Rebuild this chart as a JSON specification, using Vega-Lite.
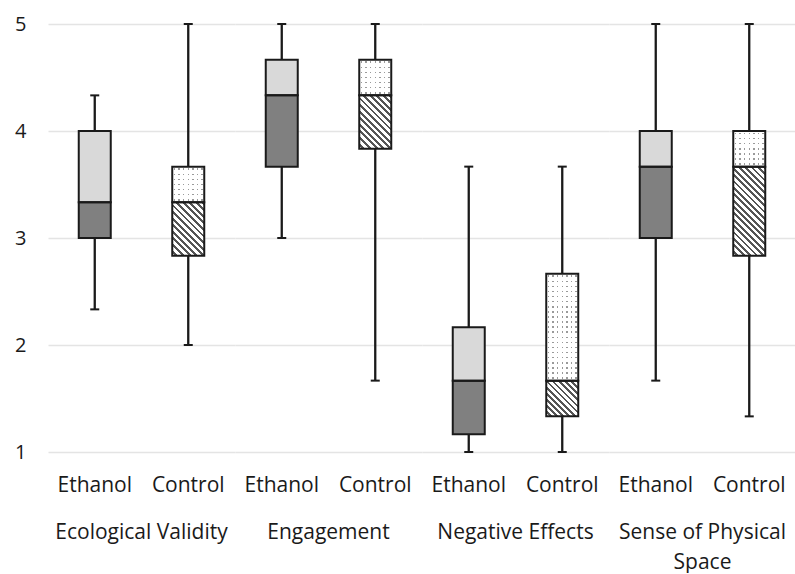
{
  "$schema": "https://vega.github.io/schema/vega-lite/v6.json",
  "padding": {"left": 14, "top": 14, "right": 0, "bottom": 0},
  "background": "white",
  "config": {
    "view": {"stroke": null},
    "font": "Open Sans",
    "axis": {"labelFont": "Open Sans", "labelFontSize": 21, "labelColor": "#1a1a1a"}
  },
  "data": {
    "values": [
      {"category": "Ecological Validity", "group": "Ethanol", "min": 2.333, "q1": 3.0, "median": 3.333, "q3": 4.0, "max": 4.333},
      {"category": "Ecological Validity", "group": "Control", "min": 2.0, "q1": 2.833, "median": 3.333, "q3": 3.667, "max": 5.0},
      {"category": "Engagement", "group": "Ethanol", "min": 3.0, "q1": 3.667, "median": 4.333, "q3": 4.667, "max": 5.0},
      {"category": "Engagement", "group": "Control", "min": 1.667, "q1": 3.833, "median": 4.333, "q3": 4.667, "max": 5.0},
      {"category": "Negative Effects", "group": "Ethanol", "min": 1.0, "q1": 1.167, "median": 1.667, "q3": 2.167, "max": 3.667},
      {"category": "Negative Effects", "group": "Control", "min": 1.0, "q1": 1.333, "median": 1.667, "q3": 2.667, "max": 3.667},
      {"category": "Sense of Physical Space", "group": "Ethanol", "min": 1.667, "q1": 3.0, "median": 3.667, "q3": 4.0, "max": 5.0},
      {"category": "Sense of Physical Space", "group": "Control", "min": 1.333, "q1": 2.833, "median": 3.667, "q3": 4.0, "max": 5.0}
    ]
  },
  "spacing": 0,
  "facet": {
    "column": {
      "field": "category",
      "type": "nominal",
      "sort": ["Ecological Validity", "Engagement", "Negative Effects", "Sense of Physical Space"],
      "header": {
        "title": null,
        "labelOrient": "bottom",
        "labelFont": "Open Sans",
        "labelFontSize": 21,
        "labelColor": "#1a1a1a",
        "labelPadding": 27,
        "labelLineHeight": 30,
        "labelExpr": "datum.value == 'Sense of Physical Space' ? ['Sense of Physical', 'Space'] : datum.value"
      }
    }
  },
  "spec": {
    "width": 187,
    "height": 428,
    "encoding": {
      "x": {
        "field": "group",
        "type": "nominal",
        "sort": ["Ethanol", "Control"],
        "title": null,
        "scale": {"paddingInner": 0, "paddingOuter": 0},
        "axis": {"domain": false, "ticks": false, "tickSize": 0, "labelPadding": 20, "labelAngle": 0, "grid": false}
      }
    },
    "layer": [
      {
        "mark": {"type": "rule", "color": "#1a1a1a", "strokeWidth": 2.3},
        "encoding": {
          "y": {
            "field": "min",
            "type": "quantitative",
            "title": null,
            "scale": {"domain": [1, 5], "nice": false, "zero": false},
            "axis": {"values": [1, 2, 3, 4, 5], "format": "d", "labelFontSize": 20, "domain": false, "ticks": false, "tickSize": 0, "labelPadding": 22, "minExtent": 34, "maxExtent": 34, "grid": true, "gridColor": "#e4e4e4", "gridWidth": 1.5}
          },
          "y2": {"field": "max"}
        }
      },
      {
        "mark": {"type": "tick", "orient": "horizontal", "size": 9, "thickness": 2, "color": "#1a1a1a", "opacity": 1},
        "encoding": {"y": {"field": "min", "type": "quantitative"}}
      },
      {
        "mark": {"type": "tick", "orient": "horizontal", "size": 9, "thickness": 2, "color": "#1a1a1a", "opacity": 1},
        "encoding": {"y": {"field": "max", "type": "quantitative"}}
      },
      {
        "transform": [{"filter": "datum.group == 'Ethanol'"}],
        "mark": {"type": "bar", "size": 32, "fill": "#808080"},
        "encoding": {"y": {"field": "q1", "type": "quantitative"}, "y2": {"field": "median"}}
      },
      {
        "transform": [{"filter": "datum.group == 'Ethanol'"}],
        "mark": {"type": "bar", "size": 32, "fill": "#d9d9d9"},
        "encoding": {"y": {"field": "median", "type": "quantitative"}, "y2": {"field": "q3"}}
      },
      {
        "transform": [{"filter": "datum.group == 'Control' && (datum.category == 'Ecological Validity' || datum.category == 'Engagement')"}],
        "mark": {
          "type": "bar", "size": 32,
          "fill": {
            "gradient": "linear", "x1": 0, "y1": 1, "x2": 0.704, "y2": -0.177,
            "stops": [
              {"offset": 0, "color": "#ffffff"}, {"offset": 0.0423, "color": "#ffffff"}, {"offset": 0.0423, "color": "#555555"}, {"offset": 0.0769, "color": "#555555"},
              {"offset": 0.0769, "color": "#ffffff"}, {"offset": 0.1192, "color": "#ffffff"}, {"offset": 0.1192, "color": "#555555"}, {"offset": 0.1538, "color": "#555555"},
              {"offset": 0.1538, "color": "#ffffff"}, {"offset": 0.1962, "color": "#ffffff"}, {"offset": 0.1962, "color": "#555555"}, {"offset": 0.2308, "color": "#555555"},
              {"offset": 0.2308, "color": "#ffffff"}, {"offset": 0.2731, "color": "#ffffff"}, {"offset": 0.2731, "color": "#555555"}, {"offset": 0.3077, "color": "#555555"},
              {"offset": 0.3077, "color": "#ffffff"}, {"offset": 0.35, "color": "#ffffff"}, {"offset": 0.35, "color": "#555555"}, {"offset": 0.3846, "color": "#555555"},
              {"offset": 0.3846, "color": "#ffffff"}, {"offset": 0.4269, "color": "#ffffff"}, {"offset": 0.4269, "color": "#555555"}, {"offset": 0.4615, "color": "#555555"},
              {"offset": 0.4615, "color": "#ffffff"}, {"offset": 0.5038, "color": "#ffffff"}, {"offset": 0.5038, "color": "#555555"}, {"offset": 0.5385, "color": "#555555"},
              {"offset": 0.5385, "color": "#ffffff"}, {"offset": 0.5808, "color": "#ffffff"}, {"offset": 0.5808, "color": "#555555"}, {"offset": 0.6154, "color": "#555555"},
              {"offset": 0.6154, "color": "#ffffff"}, {"offset": 0.6577, "color": "#ffffff"}, {"offset": 0.6577, "color": "#555555"}, {"offset": 0.6923, "color": "#555555"},
              {"offset": 0.6923, "color": "#ffffff"}, {"offset": 0.7346, "color": "#ffffff"}, {"offset": 0.7346, "color": "#555555"}, {"offset": 0.7692, "color": "#555555"},
              {"offset": 0.7692, "color": "#ffffff"}, {"offset": 0.8115, "color": "#ffffff"}, {"offset": 0.8115, "color": "#555555"}, {"offset": 0.8462, "color": "#555555"},
              {"offset": 0.8462, "color": "#ffffff"}, {"offset": 0.8885, "color": "#ffffff"}, {"offset": 0.8885, "color": "#555555"}, {"offset": 0.9231, "color": "#555555"},
              {"offset": 0.9231, "color": "#ffffff"}, {"offset": 0.9654, "color": "#ffffff"}, {"offset": 0.9654, "color": "#555555"}, {"offset": 1, "color": "#555555"}
            ]
          }
        },
        "encoding": {"y": {"field": "q1", "type": "quantitative"}, "y2": {"field": "median"}}
      },
      {
        "transform": [{"filter": "datum.group == 'Control' && datum.category == 'Negative Effects'"}],
        "mark": {
          "type": "bar", "size": 32,
          "fill": {
            "gradient": "linear", "x1": 0, "y1": 1, "x2": 0.942, "y2": -0.051,
            "stops": [
              {"offset": 0, "color": "#ffffff"}, {"offset": 0.05, "color": "#ffffff"}, {"offset": 0.05, "color": "#555555"}, {"offset": 0.0909, "color": "#555555"},
              {"offset": 0.0909, "color": "#ffffff"}, {"offset": 0.1409, "color": "#ffffff"}, {"offset": 0.1409, "color": "#555555"}, {"offset": 0.1818, "color": "#555555"},
              {"offset": 0.1818, "color": "#ffffff"}, {"offset": 0.2318, "color": "#ffffff"}, {"offset": 0.2318, "color": "#555555"}, {"offset": 0.2727, "color": "#555555"},
              {"offset": 0.2727, "color": "#ffffff"}, {"offset": 0.3227, "color": "#ffffff"}, {"offset": 0.3227, "color": "#555555"}, {"offset": 0.3636, "color": "#555555"},
              {"offset": 0.3636, "color": "#ffffff"}, {"offset": 0.4136, "color": "#ffffff"}, {"offset": 0.4136, "color": "#555555"}, {"offset": 0.4545, "color": "#555555"},
              {"offset": 0.4545, "color": "#ffffff"}, {"offset": 0.5045, "color": "#ffffff"}, {"offset": 0.5045, "color": "#555555"}, {"offset": 0.5455, "color": "#555555"},
              {"offset": 0.5455, "color": "#ffffff"}, {"offset": 0.5955, "color": "#ffffff"}, {"offset": 0.5955, "color": "#555555"}, {"offset": 0.6364, "color": "#555555"},
              {"offset": 0.6364, "color": "#ffffff"}, {"offset": 0.6864, "color": "#ffffff"}, {"offset": 0.6864, "color": "#555555"}, {"offset": 0.7273, "color": "#555555"},
              {"offset": 0.7273, "color": "#ffffff"}, {"offset": 0.7773, "color": "#ffffff"}, {"offset": 0.7773, "color": "#555555"}, {"offset": 0.8182, "color": "#555555"},
              {"offset": 0.8182, "color": "#ffffff"}, {"offset": 0.8682, "color": "#ffffff"}, {"offset": 0.8682, "color": "#555555"}, {"offset": 0.9091, "color": "#555555"},
              {"offset": 0.9091, "color": "#ffffff"}, {"offset": 0.9591, "color": "#ffffff"}, {"offset": 0.9591, "color": "#555555"}, {"offset": 1, "color": "#555555"}
            ]
          }
        },
        "encoding": {"y": {"field": "q1", "type": "quantitative"}, "y2": {"field": "median"}}
      },
      {
        "transform": [{"filter": "datum.group == 'Control' && datum.category == 'Sense of Physical Space'"}],
        "mark": {
          "type": "bar", "size": 32,
          "fill": {
            "gradient": "linear", "x1": 0, "y1": 1, "x2": 0.432, "y2": -0.204,
            "stops": [
              {"offset": 0, "color": "#ffffff"}, {"offset": 0.0289, "color": "#ffffff"}, {"offset": 0.0289, "color": "#555555"}, {"offset": 0.0526, "color": "#555555"},
              {"offset": 0.0526, "color": "#ffffff"}, {"offset": 0.0816, "color": "#ffffff"}, {"offset": 0.0816, "color": "#555555"}, {"offset": 0.1053, "color": "#555555"},
              {"offset": 0.1053, "color": "#ffffff"}, {"offset": 0.1342, "color": "#ffffff"}, {"offset": 0.1342, "color": "#555555"}, {"offset": 0.1579, "color": "#555555"},
              {"offset": 0.1579, "color": "#ffffff"}, {"offset": 0.1868, "color": "#ffffff"}, {"offset": 0.1868, "color": "#555555"}, {"offset": 0.2105, "color": "#555555"},
              {"offset": 0.2105, "color": "#ffffff"}, {"offset": 0.2395, "color": "#ffffff"}, {"offset": 0.2395, "color": "#555555"}, {"offset": 0.2632, "color": "#555555"},
              {"offset": 0.2632, "color": "#ffffff"}, {"offset": 0.2921, "color": "#ffffff"}, {"offset": 0.2921, "color": "#555555"}, {"offset": 0.3158, "color": "#555555"},
              {"offset": 0.3158, "color": "#ffffff"}, {"offset": 0.3447, "color": "#ffffff"}, {"offset": 0.3447, "color": "#555555"}, {"offset": 0.3684, "color": "#555555"},
              {"offset": 0.3684, "color": "#ffffff"}, {"offset": 0.3974, "color": "#ffffff"}, {"offset": 0.3974, "color": "#555555"}, {"offset": 0.4211, "color": "#555555"},
              {"offset": 0.4211, "color": "#ffffff"}, {"offset": 0.45, "color": "#ffffff"}, {"offset": 0.45, "color": "#555555"}, {"offset": 0.4737, "color": "#555555"},
              {"offset": 0.4737, "color": "#ffffff"}, {"offset": 0.5026, "color": "#ffffff"}, {"offset": 0.5026, "color": "#555555"}, {"offset": 0.5263, "color": "#555555"},
              {"offset": 0.5263, "color": "#ffffff"}, {"offset": 0.5553, "color": "#ffffff"}, {"offset": 0.5553, "color": "#555555"}, {"offset": 0.5789, "color": "#555555"},
              {"offset": 0.5789, "color": "#ffffff"}, {"offset": 0.6079, "color": "#ffffff"}, {"offset": 0.6079, "color": "#555555"}, {"offset": 0.6316, "color": "#555555"},
              {"offset": 0.6316, "color": "#ffffff"}, {"offset": 0.6605, "color": "#ffffff"}, {"offset": 0.6605, "color": "#555555"}, {"offset": 0.6842, "color": "#555555"},
              {"offset": 0.6842, "color": "#ffffff"}, {"offset": 0.7132, "color": "#ffffff"}, {"offset": 0.7132, "color": "#555555"}, {"offset": 0.7368, "color": "#555555"},
              {"offset": 0.7368, "color": "#ffffff"}, {"offset": 0.7658, "color": "#ffffff"}, {"offset": 0.7658, "color": "#555555"}, {"offset": 0.7895, "color": "#555555"},
              {"offset": 0.7895, "color": "#ffffff"}, {"offset": 0.8184, "color": "#ffffff"}, {"offset": 0.8184, "color": "#555555"}, {"offset": 0.8421, "color": "#555555"},
              {"offset": 0.8421, "color": "#ffffff"}, {"offset": 0.8711, "color": "#ffffff"}, {"offset": 0.8711, "color": "#555555"}, {"offset": 0.8947, "color": "#555555"},
              {"offset": 0.8947, "color": "#ffffff"}, {"offset": 0.9237, "color": "#ffffff"}, {"offset": 0.9237, "color": "#555555"}, {"offset": 0.9474, "color": "#555555"},
              {"offset": 0.9474, "color": "#ffffff"}, {"offset": 0.9763, "color": "#ffffff"}, {"offset": 0.9763, "color": "#555555"}, {"offset": 1, "color": "#555555"}
            ]
          }
        },
        "encoding": {"y": {"field": "q1", "type": "quantitative"}, "y2": {"field": "median"}}
      },
      {
        "transform": [{"filter": "datum.group == 'Control'"}],
        "mark": {
          "type": "bar", "size": 32,
          "fill": {
            "gradient": "linear", "x1": 0, "y1": 0, "x2": 1, "y2": 0,
            "stops": [
              {"offset": 0, "color": "#ffffff"},
              {"offset": 0.05, "color": "#ffffff"}, {"offset": 0.05, "color": "#9a9a9a"}, {"offset": 0.0929, "color": "#9a9a9a"}, {"offset": 0.0929, "color": "#ffffff"},
              {"offset": 0.1929, "color": "#ffffff"}, {"offset": 0.1929, "color": "#9a9a9a"}, {"offset": 0.2357, "color": "#9a9a9a"}, {"offset": 0.2357, "color": "#ffffff"},
              {"offset": 0.3357, "color": "#ffffff"}, {"offset": 0.3357, "color": "#9a9a9a"}, {"offset": 0.3786, "color": "#9a9a9a"}, {"offset": 0.3786, "color": "#ffffff"},
              {"offset": 0.4786, "color": "#ffffff"}, {"offset": 0.4786, "color": "#9a9a9a"}, {"offset": 0.5214, "color": "#9a9a9a"}, {"offset": 0.5214, "color": "#ffffff"},
              {"offset": 0.6214, "color": "#ffffff"}, {"offset": 0.6214, "color": "#9a9a9a"}, {"offset": 0.6643, "color": "#9a9a9a"}, {"offset": 0.6643, "color": "#ffffff"},
              {"offset": 0.7643, "color": "#ffffff"}, {"offset": 0.7643, "color": "#9a9a9a"}, {"offset": 0.8071, "color": "#9a9a9a"}, {"offset": 0.8071, "color": "#ffffff"},
              {"offset": 0.9071, "color": "#ffffff"}, {"offset": 0.9071, "color": "#9a9a9a"}, {"offset": 0.95, "color": "#9a9a9a"}, {"offset": 0.95, "color": "#ffffff"},
              {"offset": 1, "color": "#ffffff"}
            ]
          }
        },
        "encoding": {"y": {"field": "median", "type": "quantitative"}, "y2": {"field": "q3"}}
      },
      {
        "transform": [{"filter": "datum.group == 'Control' && datum.category != 'Negative Effects'"}],
        "mark": {
          "type": "bar", "size": 32,
          "fill": {
            "gradient": "linear", "x1": 0, "y1": 0, "x2": 0, "y2": 1,
            "stops": [
              {"offset": 0, "color": "rgba(255,255,255,1)"},
              {"offset": 0.05, "color": "rgba(255,255,255,1)"}, {"offset": 0.05, "color": "rgba(255,255,255,0)"}, {"offset": 0.0929, "color": "rgba(255,255,255,0)"}, {"offset": 0.0929, "color": "rgba(255,255,255,1)"},
              {"offset": 0.1929, "color": "rgba(255,255,255,1)"}, {"offset": 0.1929, "color": "rgba(255,255,255,0)"}, {"offset": 0.2357, "color": "rgba(255,255,255,0)"}, {"offset": 0.2357, "color": "rgba(255,255,255,1)"},
              {"offset": 0.3357, "color": "rgba(255,255,255,1)"}, {"offset": 0.3357, "color": "rgba(255,255,255,0)"}, {"offset": 0.3786, "color": "rgba(255,255,255,0)"}, {"offset": 0.3786, "color": "rgba(255,255,255,1)"},
              {"offset": 0.4786, "color": "rgba(255,255,255,1)"}, {"offset": 0.4786, "color": "rgba(255,255,255,0)"}, {"offset": 0.5214, "color": "rgba(255,255,255,0)"}, {"offset": 0.5214, "color": "rgba(255,255,255,1)"},
              {"offset": 0.6214, "color": "rgba(255,255,255,1)"}, {"offset": 0.6214, "color": "rgba(255,255,255,0)"}, {"offset": 0.6643, "color": "rgba(255,255,255,0)"}, {"offset": 0.6643, "color": "rgba(255,255,255,1)"},
              {"offset": 0.7643, "color": "rgba(255,255,255,1)"}, {"offset": 0.7643, "color": "rgba(255,255,255,0)"}, {"offset": 0.8071, "color": "rgba(255,255,255,0)"}, {"offset": 0.8071, "color": "rgba(255,255,255,1)"},
              {"offset": 0.9071, "color": "rgba(255,255,255,1)"}, {"offset": 0.9071, "color": "rgba(255,255,255,0)"}, {"offset": 0.95, "color": "rgba(255,255,255,0)"}, {"offset": 0.95, "color": "rgba(255,255,255,1)"},
              {"offset": 1, "color": "rgba(255,255,255,1)"}
            ]
          }
        },
        "encoding": {"y": {"field": "median", "type": "quantitative"}, "y2": {"field": "q3"}}
      },
      {
        "transform": [{"filter": "datum.group == 'Control' && datum.category == 'Negative Effects'"}],
        "mark": {
          "type": "bar", "size": 32,
          "fill": {
            "gradient": "linear", "x1": 0, "y1": 0, "x2": 0, "y2": 1,
            "stops": [
              {"offset": 0, "color": "rgba(255,255,255,1)"},
              {"offset": 0.0167, "color": "rgba(255,255,255,1)"}, {"offset": 0.0167, "color": "rgba(255,255,255,0)"}, {"offset": 0.031, "color": "rgba(255,255,255,0)"}, {"offset": 0.031, "color": "rgba(255,255,255,1)"},
              {"offset": 0.0643, "color": "rgba(255,255,255,1)"}, {"offset": 0.0643, "color": "rgba(255,255,255,0)"}, {"offset": 0.0786, "color": "rgba(255,255,255,0)"}, {"offset": 0.0786, "color": "rgba(255,255,255,1)"},
              {"offset": 0.1119, "color": "rgba(255,255,255,1)"}, {"offset": 0.1119, "color": "rgba(255,255,255,0)"}, {"offset": 0.1262, "color": "rgba(255,255,255,0)"}, {"offset": 0.1262, "color": "rgba(255,255,255,1)"},
              {"offset": 0.1595, "color": "rgba(255,255,255,1)"}, {"offset": 0.1595, "color": "rgba(255,255,255,0)"}, {"offset": 0.1738, "color": "rgba(255,255,255,0)"}, {"offset": 0.1738, "color": "rgba(255,255,255,1)"},
              {"offset": 0.2071, "color": "rgba(255,255,255,1)"}, {"offset": 0.2071, "color": "rgba(255,255,255,0)"}, {"offset": 0.2214, "color": "rgba(255,255,255,0)"}, {"offset": 0.2214, "color": "rgba(255,255,255,1)"},
              {"offset": 0.2548, "color": "rgba(255,255,255,1)"}, {"offset": 0.2548, "color": "rgba(255,255,255,0)"}, {"offset": 0.269, "color": "rgba(255,255,255,0)"}, {"offset": 0.269, "color": "rgba(255,255,255,1)"},
              {"offset": 0.3024, "color": "rgba(255,255,255,1)"}, {"offset": 0.3024, "color": "rgba(255,255,255,0)"}, {"offset": 0.3167, "color": "rgba(255,255,255,0)"}, {"offset": 0.3167, "color": "rgba(255,255,255,1)"},
              {"offset": 0.35, "color": "rgba(255,255,255,1)"}, {"offset": 0.35, "color": "rgba(255,255,255,0)"}, {"offset": 0.3643, "color": "rgba(255,255,255,0)"}, {"offset": 0.3643, "color": "rgba(255,255,255,1)"},
              {"offset": 0.3976, "color": "rgba(255,255,255,1)"}, {"offset": 0.3976, "color": "rgba(255,255,255,0)"}, {"offset": 0.4119, "color": "rgba(255,255,255,0)"}, {"offset": 0.4119, "color": "rgba(255,255,255,1)"},
              {"offset": 0.4452, "color": "rgba(255,255,255,1)"}, {"offset": 0.4452, "color": "rgba(255,255,255,0)"}, {"offset": 0.4595, "color": "rgba(255,255,255,0)"}, {"offset": 0.4595, "color": "rgba(255,255,255,1)"},
              {"offset": 0.4929, "color": "rgba(255,255,255,1)"}, {"offset": 0.4929, "color": "rgba(255,255,255,0)"}, {"offset": 0.5071, "color": "rgba(255,255,255,0)"}, {"offset": 0.5071, "color": "rgba(255,255,255,1)"},
              {"offset": 0.5405, "color": "rgba(255,255,255,1)"}, {"offset": 0.5405, "color": "rgba(255,255,255,0)"}, {"offset": 0.5548, "color": "rgba(255,255,255,0)"}, {"offset": 0.5548, "color": "rgba(255,255,255,1)"},
              {"offset": 0.5881, "color": "rgba(255,255,255,1)"}, {"offset": 0.5881, "color": "rgba(255,255,255,0)"}, {"offset": 0.6024, "color": "rgba(255,255,255,0)"}, {"offset": 0.6024, "color": "rgba(255,255,255,1)"},
              {"offset": 0.6357, "color": "rgba(255,255,255,1)"}, {"offset": 0.6357, "color": "rgba(255,255,255,0)"}, {"offset": 0.65, "color": "rgba(255,255,255,0)"}, {"offset": 0.65, "color": "rgba(255,255,255,1)"},
              {"offset": 0.6833, "color": "rgba(255,255,255,1)"}, {"offset": 0.6833, "color": "rgba(255,255,255,0)"}, {"offset": 0.6976, "color": "rgba(255,255,255,0)"}, {"offset": 0.6976, "color": "rgba(255,255,255,1)"},
              {"offset": 0.731, "color": "rgba(255,255,255,1)"}, {"offset": 0.731, "color": "rgba(255,255,255,0)"}, {"offset": 0.7452, "color": "rgba(255,255,255,0)"}, {"offset": 0.7452, "color": "rgba(255,255,255,1)"},
              {"offset": 0.7786, "color": "rgba(255,255,255,1)"}, {"offset": 0.7786, "color": "rgba(255,255,255,0)"}, {"offset": 0.7929, "color": "rgba(255,255,255,0)"}, {"offset": 0.7929, "color": "rgba(255,255,255,1)"},
              {"offset": 0.8262, "color": "rgba(255,255,255,1)"}, {"offset": 0.8262, "color": "rgba(255,255,255,0)"}, {"offset": 0.8405, "color": "rgba(255,255,255,0)"}, {"offset": 0.8405, "color": "rgba(255,255,255,1)"},
              {"offset": 0.8738, "color": "rgba(255,255,255,1)"}, {"offset": 0.8738, "color": "rgba(255,255,255,0)"}, {"offset": 0.8881, "color": "rgba(255,255,255,0)"}, {"offset": 0.8881, "color": "rgba(255,255,255,1)"},
              {"offset": 0.9214, "color": "rgba(255,255,255,1)"}, {"offset": 0.9214, "color": "rgba(255,255,255,0)"}, {"offset": 0.9357, "color": "rgba(255,255,255,0)"}, {"offset": 0.9357, "color": "rgba(255,255,255,1)"},
              {"offset": 0.969, "color": "rgba(255,255,255,1)"}, {"offset": 0.969, "color": "rgba(255,255,255,0)"}, {"offset": 0.9833, "color": "rgba(255,255,255,0)"}, {"offset": 0.9833, "color": "rgba(255,255,255,1)"},
              {"offset": 1, "color": "rgba(255,255,255,1)"}
            ]
          }
        },
        "encoding": {"y": {"field": "median", "type": "quantitative"}, "y2": {"field": "q3"}}
      },
      {
        "mark": {"type": "bar", "size": 32, "fill": "transparent", "stroke": "#1a1a1a", "strokeWidth": 2},
        "encoding": {"y": {"field": "q1", "type": "quantitative"}, "y2": {"field": "median"}}
      },
      {
        "mark": {"type": "bar", "size": 32, "fill": "transparent", "stroke": "#1a1a1a", "strokeWidth": 2},
        "encoding": {"y": {"field": "median", "type": "quantitative"}, "y2": {"field": "q3"}}
      }
    ]
  }
}
